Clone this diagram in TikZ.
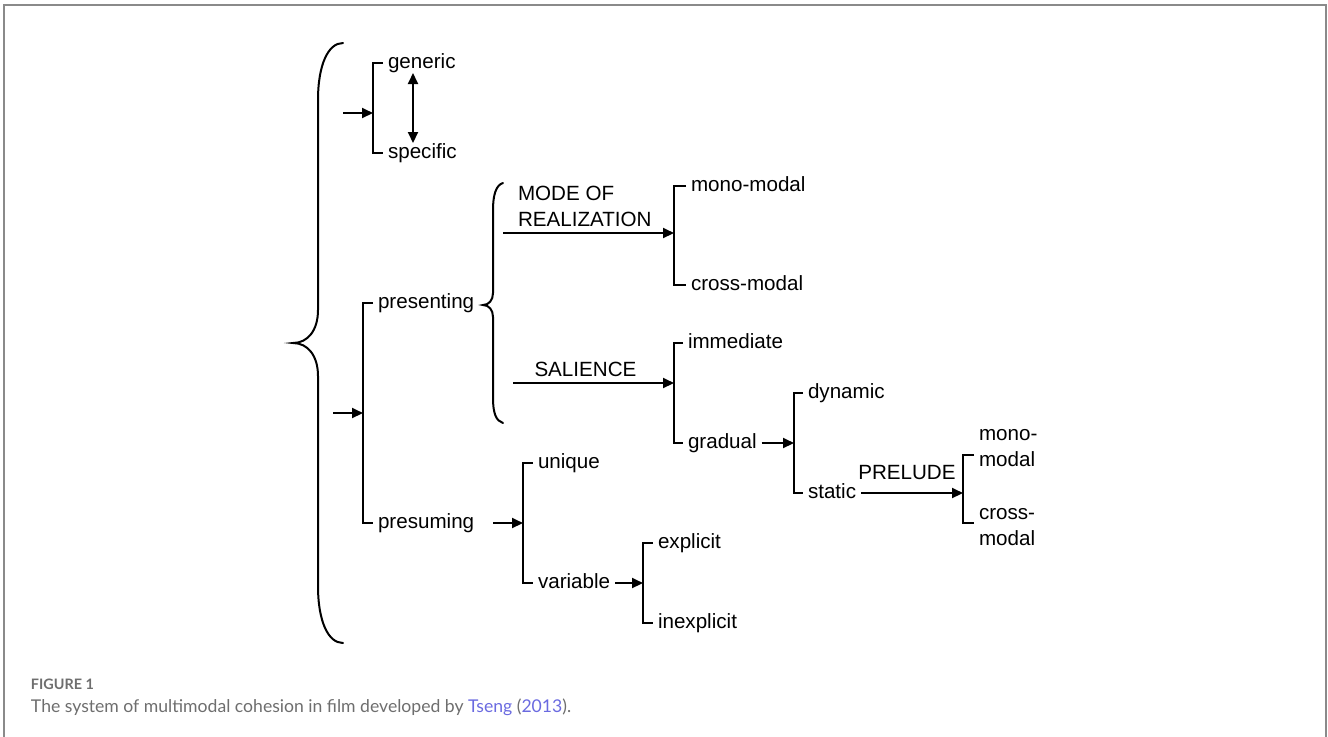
\documentclass[tikz,border=0pt]{standalone}
\usepackage{fontspec}
\setmainfont{Liberation Sans}
\newfontfamily\capfont{Lato}
\usetikzlibrary{arrows.meta}
\definecolor{framegray}{HTML}{8A8A8A}
\definecolor{capgray}{HTML}{6E6E6E}
\definecolor{linkblue}{HTML}{6A6AE0}

\begin{document}
\begin{tikzpicture}[x=0.5pt, y=-0.5pt, line width=1pt,
		lbl/.style={inner sep=2pt, anchor=west, font=\fontsize{10.3}{13}\selectfont, text height=0.72em, text depth=0.2em},
		two/.style={inner sep=2pt, anchor=west, align=left, font=\fontsize{10.3}{13}\selectfont},
		tag/.style={inner sep=1pt, font=\fontsize{10.3}{13}\selectfont, text height=0.72em, text depth=0.2em},
		arr/.style={-{Triangle[length=5.5pt, width=5pt]}},
		arr2/.style={{Triangle[length=5.5pt, width=5pt]}-{Triangle[length=5.5pt, width=5pt]}}]
		\useasboundingbox (0,0) rectangle (1328,736);
		\draw [framegray, line width=0.8pt] (4,745) |- (1326,5) -- (1326,745);

		\draw [line cap=round] (343,43) .. controls (328,43) and (318,65) .. (318,100) -- (318,310) .. controls (318,330) and (308,343) .. (293,343) .. controls (308,343) and (318,356) .. (318,376) -- (318,586) .. controls (318,621) and (328,643) .. (343,643);

		\draw (383,63) node[lbl] (generic) {generic};
		\draw (383,153) node[lbl] (specific) {specific};
		\coordinate (gsin) at (343,113);
		\coordinate (gsbar) at (373,113);
		\coordinate (gup) at (413,73);
		\coordinate (gdown) at (413,143);
		\draw (generic.west) -| (gsbar) |- (specific.west);
		\draw [arr] (gsin) -- (gsbar);
		\draw [arr2] (gup) -- (gdown);

		\draw (373,303) node[lbl] (presenting) {presenting};
		\draw (373,523) node[lbl] (presuming) {presuming};
		\coordinate (mainin) at (333,413);
		\coordinate (mainbar) at (363,413);
		\draw (presenting.west) -| (mainbar) |- (presuming.west);
		\draw [arr] (mainin) -- (mainbar);

		\draw [line cap=round] (503,183) .. controls (496,185) and (493,195) .. (493,210) -- (493,293) .. controls (493,300) and (489,305) .. (483,305) .. controls (489,305) and (493,310) .. (493,317) -- (493,398) .. controls (493,413) and (496,421) .. (503,423);

		\draw (513,206) node[two] (mode) {MODE OF\\REALIZATION};
		\draw (686,186) node[lbl] (mono) {mono-modal};
		\draw (686,285) node[lbl] (cross) {cross-modal};
		\coordinate (modein) at (503,233);
		\coordinate (modebar) at (674,233);
		\draw (mono.west) -| (modebar) |- (cross.west);
		\draw [arr] (modein) -- (modebar);

		\draw (683,343) node[lbl] (immediate) {immediate};
		\draw (683,443) node[lbl] (gradual) {gradual};
		\coordinate (salin) at (513,383);
		\coordinate (salbar) at (674,383);
		\draw (immediate.west) -| (salbar) |- (gradual.west);
		\draw [arr] (salin) -- node[tag, above, pos=.45] (salience) {SALIENCE} (salbar);

		\draw (803,393) node[lbl] (dynamic) {dynamic};
		\draw (803,493) node[lbl] (static) {static};
		\coordinate (gradbar) at (794,443);
		\draw (dynamic.west) -| (gradbar) |- (static.west);
		\draw [arr] (gradual.east) -- (gradbar);

		\draw (974,448) node[two] (pmono) {mono-\\modal};
		\draw (974,527) node[two] (pcross) {cross-\\modal};
		\coordinate (prebar) at (963,493);
		\draw ([yshift=-3.5pt]pmono.west) -| (prebar) |- ([yshift=2pt]pcross.west);
		\draw [arr] (static.east) -- node[tag, above=3.5pt, pos=.45] (prelude) {PRELUDE} (prebar);

		\draw (533,463) node[lbl] (unique) {unique};
		\draw (533,583) node[lbl] (variable) {variable};
		\coordinate (presin) at (493,523);
		\coordinate (presbar) at (523,523);
		\draw (unique.west) -| (presbar) |- (variable.west);
		\draw [arr] (presin) -- (presbar);

		\draw (653,543) node[lbl] (explicit) {explicit};
		\draw (653,623) node[lbl] (inexplicit) {inexplicit};
		\coordinate (varbar) at (643,583);
		\draw (explicit.west) -| (varbar) |- (inexplicit.west);
		\draw [arr] (variable.east) -- (varbar);

		\draw (30,684) node[anchor=west, inner sep=0pt, text=capgray, font=\capfont\bfseries\fontsize{7.2}{8}\selectfont] (figlabel) {FIGURE 1};
		\draw (30,707) node[anchor=west, inner sep=0pt, text=capgray, font=\capfont\fontsize{8.8}{10}\selectfont] (caption) {The system of multimodal cohesion in film developed by \textcolor{linkblue}{Tseng} (\textcolor{linkblue}{2013}).};
	\end{tikzpicture}
\end{document}
